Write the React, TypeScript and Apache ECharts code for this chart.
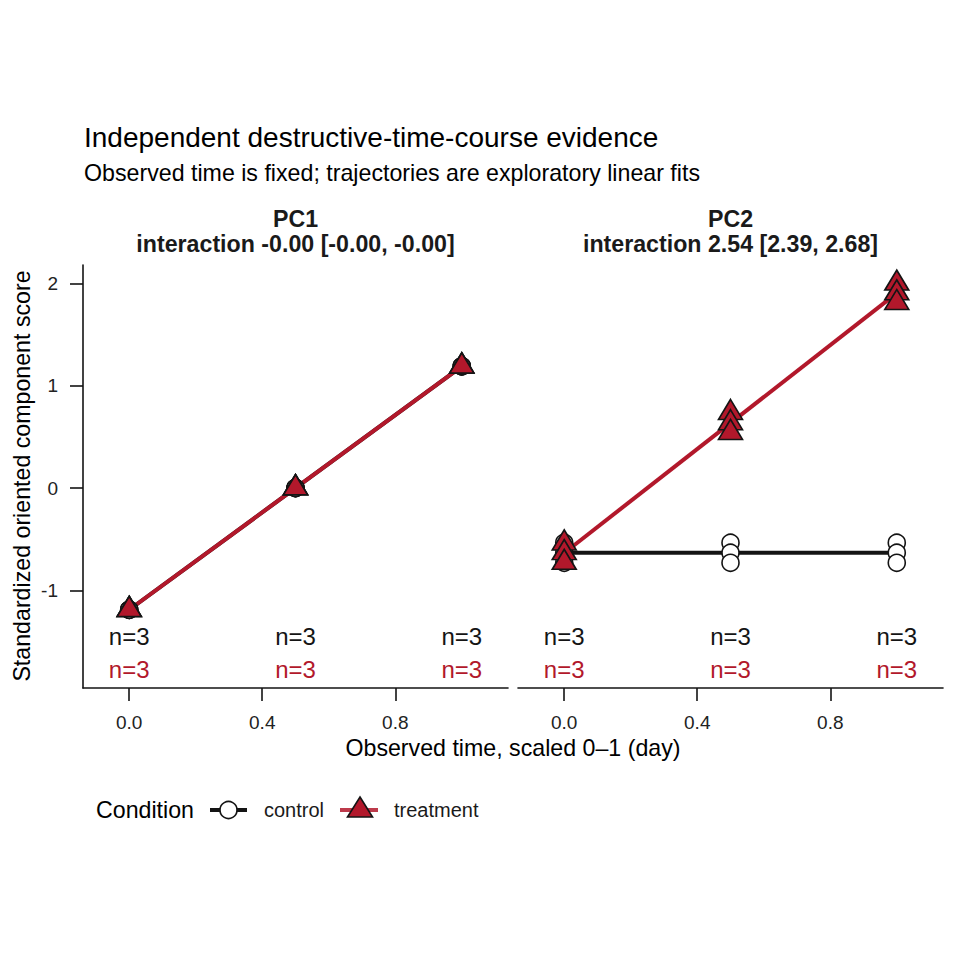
import React, { useEffect, useRef } from "react";
import * as echarts from "echarts";

// ---- data ----
const timePoints = [0, 0.5, 1];
const fitTimes = [0, 1];
const xTicks = [0, 0.4, 0.8];
const yTicks = [-1, 0, 1, 2];

const panelNames = ["PC1", "PC2"];
const interactionLabels = [
  "interaction -0.00 [-0.00, -0.00]",
  "interaction 2.54 [2.39, 2.68]",
];

// replicate scores per time point (rows = time points)
const pc1Control = [
  [-1.19, -1.19, -1.19],
  [0.0, 0.0, 0.0],
  [1.19, 1.19, 1.19],
];
const pc1Treatment = [
  [-1.19, -1.19, -1.19],
  [0.0, 0.0, 0.0],
  [1.19, 1.19, 1.19],
];
const pc2Control = [
  [-0.535, -0.633, -0.731],
  [-0.535, -0.633, -0.731],
  [-0.535, -0.633, -0.731],
];
const pc2Treatment = [
  [-0.54, -0.635, -0.73],
  [0.735, 0.635, 0.54],
  [2.0, 1.905, 1.81],
];

// exploratory linear fits (values at time 0 and 1)
const pc1ControlFit = [-1.19, 1.19];
const pc1TreatmentFit = [-1.19, 1.19];
const pc2ControlFit = [-0.633, -0.633];
const pc2TreatmentFit = [-0.635, 1.905];

// sample counts per time point
const nControl = [3, 3, 3];
const nTreatment = [3, 3, 3];
const nControlLabelY = -1.456;
const nTreatmentLabelY = -1.779;

// ---- styling ----
const RED = "#B2182B";
const BLACK = "#141414";
const FONT = '"Liberation Sans", Arial, Helvetica, sans-serif';
const TRI_W = 24;
const TRI_H = 20;

const repPoints = (reps: number[][]) =>
  timePoints.flatMap((t, i) => reps[i].map((v) => [t, v]));
const fitLine = (fit: number[]) => fitTimes.map((t, i) => [t, fit[i]]);
const nPoints = (ns: number[], y: number) => timePoints.map((t, i) => [t, y, ns[i]]);

function nLabelSeries(idx: number, ns: number[], y: number, color: string) {
  return {
    type: "scatter",
    xAxisIndex: idx,
    yAxisIndex: idx,
    data: nPoints(ns, y),
    symbolSize: 0,
    itemStyle: { color, opacity: 1 },
    label: {
      show: true,
      position: "inside",
      formatter: (p: any) => "n=" + p.value[2],
      fontSize: 24,
      fontFamily: FONT,
      color,
      opacity: 1,
      textBorderWidth: 0,
    },
    z: 5,
    silent: true,
  };
}

function panelSeries(idx: number, ctrl: number[][], trt: number[][], ctrlFit: number[], trtFit: number[]) {
  return [
    {
      type: "line",
      name: "control",
      xAxisIndex: idx,
      yAxisIndex: idx,
      data: fitLine(ctrlFit),
      showSymbol: false,
      symbol: "none",
      lineStyle: { color: BLACK, width: 4 },
      z: 2,
      silent: true,
    },
    {
      type: "line",
      name: "treatment",
      xAxisIndex: idx,
      yAxisIndex: idx,
      data: fitLine(trtFit),
      showSymbol: false,
      symbol: "none",
      lineStyle: { color: RED, width: 4 },
      z: 2,
      silent: true,
    },
    {
      type: "scatter",
      name: "control",
      xAxisIndex: idx,
      yAxisIndex: idx,
      data: repPoints(ctrl),
      symbol: "circle",
      symbolSize: 17,
      itemStyle: { color: "#ffffff", borderColor: BLACK, borderWidth: 1.6, opacity: 1 },
      z: 3,
      silent: true,
    },
    {
      type: "scatter",
      name: "treatment",
      xAxisIndex: idx,
      yAxisIndex: idx,
      data: repPoints(trt),
      symbol: "triangle",
      symbolSize: [TRI_W, TRI_H],
      symbolOffset: [0, -TRI_H / 6],
      itemStyle: { color: RED, borderColor: BLACK, borderWidth: 1.6, opacity: 1 },
      z: 4,
      silent: true,
    },
    nLabelSeries(idx, nControl, nControlLabelY, BLACK),
    nLabelSeries(idx, nTreatment, nTreatmentLabelY, RED),
  ];
}

const GRID_TOP = 265;
const GRID_H = 423;
const GRID_W = 425;
const GRID_LEFTS = [83, 518];

function xAxisFor(idx: number) {
  return {
    type: "value",
    gridIndex: idx,
    min: -0.139,
    max: 1.139,
    splitLine: { show: false },
    axisLine: { show: true, onZero: false, lineStyle: { color: BLACK, width: 1.6 } },
    axisTick: { show: true, length: 13, customValues: xTicks, lineStyle: { color: BLACK, width: 1.6 } },
    axisLabel: {
      show: true,
      customValues: xTicks,
      formatter: (v: number) => v.toFixed(1),
      fontSize: 19,
      fontFamily: FONT,
      color: "#222222",
      margin: 25,
    },
  };
}

function yAxisFor(idx: number) {
  const visible = idx === 0;
  return {
    type: "value",
    gridIndex: idx,
    min: -1.955,
    max: 2.18,
    splitLine: { show: false },
    axisLine: { show: visible, onZero: false, lineStyle: { color: BLACK, width: 1.6 } },
    axisTick: { show: visible, length: 13, customValues: yTicks, lineStyle: { color: BLACK, width: 1.6 } },
    axisLabel: {
      show: visible,
      customValues: yTicks,
      formatter: (v: number) => String(v),
      fontSize: 19,
      fontFamily: FONT,
      color: "#222222",
      margin: 25,
    },
  };
}

const panelCenters = GRID_LEFTS.map((l) => l + GRID_W / 2);

const txt = (text: string, x: number, y: number, font: string, align = "left", fill = "#000", extra: any = {}) => ({
  type: "text",
  x,
  y,
  ...extra,
  style: { text, font, fill, textAlign: align, textVerticalAlign: "middle" },
});

const graphics: any[] = [
  txt("Independent destructive-time-course evidence", 84, 137, `28px ${FONT}`),
  txt("Observed time is fixed; trajectories are exploratory linear fits", 84, 173, `23.2px ${FONT}`),
  ...panelNames.flatMap((name, i) => [
    txt(name, panelCenters[i], 219, `bold 23.2px ${FONT}`, "center", "#1a1a1a"),
    txt(interactionLabels[i], panelCenters[i], 243.5, `bold 23.2px ${FONT}`, "center", "#1a1a1a"),
  ]),
  txt("Standardized oriented component score", 22, 476, `23.2px ${FONT}`, "center", "#000", {
    rotation: Math.PI / 2,
  }),
  txt("Observed time, scaled 0\u20131 (day)", 513, 748, `23.2px ${FONT}`, "center"),
  // legend
  txt("Condition", 96, 810, `23.2px ${FONT}`),
  {
    type: "line",
    shape: { x1: 210, y1: 810, x2: 247, y2: 810 },
    style: { stroke: BLACK, lineWidth: 4 },
  },
  {
    type: "circle",
    shape: { cx: 228.5, cy: 810, r: 8.5 },
    style: { fill: "#fff", stroke: BLACK, lineWidth: 1.6 },
  },
  txt("control", 264, 810, `20px ${FONT}`, "left", "#1a1a1a"),
  {
    type: "line",
    shape: { x1: 340, y1: 810, x2: 378, y2: 810 },
    style: { stroke: RED, lineWidth: 4, opacity: 0.85 },
  },
  {
    type: "polygon",
    shape: { points: [[360, 797], [372.5, 817], [347.5, 817]] },
    style: { fill: RED, stroke: BLACK, lineWidth: 1.6 },
  },
  txt("treatment", 394, 810, `20px ${FONT}`, "left", "#1a1a1a"),
];

const option: any = {
  animation: false,
  backgroundColor: "#ffffff",
  textStyle: { fontFamily: FONT },
  grid: GRID_LEFTS.map((left) => ({
    left,
    top: GRID_TOP,
    width: GRID_W,
    height: GRID_H,
    containLabel: false,
  })),
  xAxis: [xAxisFor(0), xAxisFor(1)],
  yAxis: [yAxisFor(0), yAxisFor(1)],
  series: [
    ...panelSeries(0, pc1Control, pc1Treatment, pc1ControlFit, pc1TreatmentFit),
    ...panelSeries(1, pc2Control, pc2Treatment, pc2ControlFit, pc2TreatmentFit),
  ],
  graphic: graphics,
};

export default function App() {
  const ref = useRef<HTMLDivElement>(null);
  useEffect(() => {
    if (!ref.current) return;
    const chart = echarts.init(ref.current, null, { renderer: "svg" });
    chart.setOption(option);
    return () => chart.dispose();
  }, []);
  return (
    <div
      ref={ref}
      style={{ position: "fixed", left: 0, top: 0, width: 960, height: 960, background: "#fff" }}
    />
  );
}
